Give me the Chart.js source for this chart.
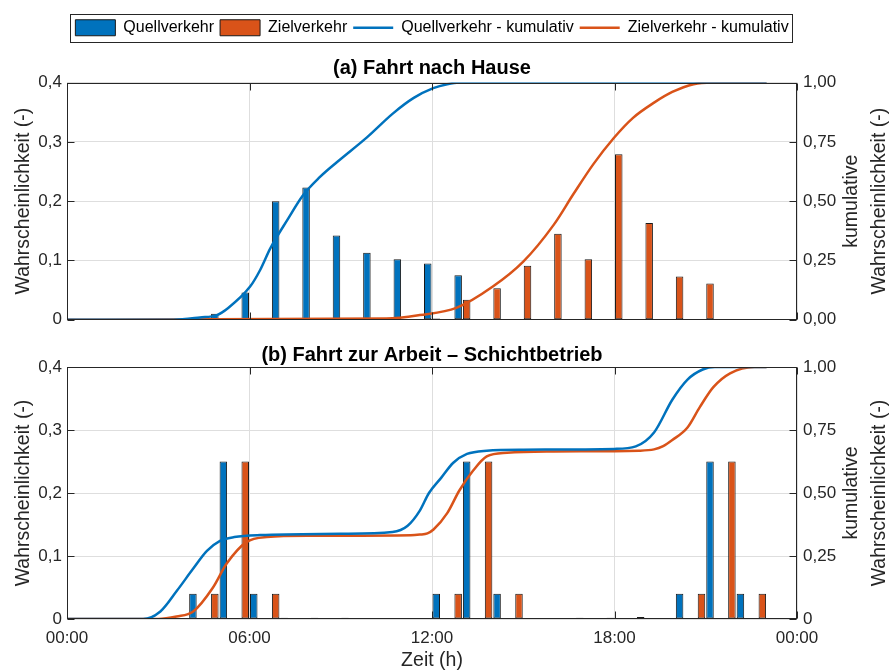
<!DOCTYPE html>
<html>
<head>
<meta charset="utf-8">
<script src="https://cdn.jsdelivr.net/npm/chart.js@4.4.1/dist/chart.umd.min.js"></script>
<style>
  html, body { margin: 0; padding: 0; background: #fff; }
  #wrap { position: relative; width: 890px; height: 672px; }
  #chartA { position: absolute; left: 0; top: 0; }
  #chartB { position: absolute; left: 0; top: 336px; }
</style>
</head>
<body>
<div id="wrap">
  <canvas id="chartA" width="890" height="336"></canvas>
  <canvas id="chartB" width="890" height="336"></canvas>
</div>
<script>
// hourly bins
const hours = [0,1,2,3,4,5,6,7,8,9,10,11,12,13,14,15,16,17,18,19,20,21,22,23];

// (a) Fahrt nach Hause
const quellA = [0,0,0,0,0.002,0.010,0.046,0.200,0.223,0.142,0.113,0.102,0.095,0.075,0,0,0,0,0,0,0,0,0,0];
const zielA  = [0,0,0,0,0,0,0,0,0,0,0,0,0.002,0.034,0.053,0.091,0.145,0.102,0.279,0.163,0.073,0.061,0,0];
const cumTimeQA = [0, 3.5, 4.37, 4.93, 5.3, 6.02, 6.35, 6.68, 7.24, 7.76, 8.3, 8.88, 9.87, 10.72, 11.4, 12.04, 12.5, 12.9, 14, 23];
const cumQA     = [0, 0,   0.01, 0.02, 0.05, 0.14, 0.21, 0.30, 0.42, 0.525, 0.60, 0.665, 0.77, 0.87, 0.935, 0.976, 0.993, 1, 1, 1];
const cumTimeZA = [0, 10.5, 11.6, 12.8, 14, 15, 16, 16.65, 17.3, 17.97, 18.6, 19.3, 19.9, 20.6, 21.2, 23];
const cumZA     = [0, 0.005, 0.02, 0.05, 0.14, 0.245, 0.40, 0.53, 0.655, 0.765, 0.85, 0.915, 0.96, 0.993, 1, 1];

// (b) Fahrt zur Arbeit - Schichtbetrieb
const quellB = [0,0,0,0,0.04,0.25,0.04,0.002,0.002,0.002,0.001,0,0.04,0.25,0.04,0,0,0,0,0,0.04,0.25,0.04,0];
const zielB  = [0,0,0,0,0,0.04,0.25,0.04,0,0,0.001,0,0,0.04,0.25,0.04,0.001,0.002,0.002,0.003,0.001,0.04,0.25,0.04];
const cumTimeQB = [0, 2.5, 3.07, 3.6, 4.15, 4.6, 5.03, 5.5, 6.35, 9, 10.7, 11.2, 11.6, 11.9, 12.3, 12.7, 13.15, 13.8, 15, 18, 18.7, 19.3, 19.9, 20.4, 20.9, 21.3, 23];
const cumQB     = [0, 0,   0.03, 0.11, 0.20, 0.27, 0.31, 0.325, 0.333, 0.338, 0.345, 0.37, 0.43, 0.50, 0.56, 0.62, 0.655, 0.668, 0.672, 0.675, 0.685, 0.74, 0.87, 0.95, 0.99, 1, 1];
const cumTimeZB = [0, 3, 3.6, 4.15, 4.8, 5.25, 5.9, 6.57, 8, 11.3, 11.6, 11.85, 12.05, 12.5, 12.9, 13.36, 13.8, 14.47, 16, 18.8, 19.3, 19.6, 19.9, 20.4, 20.8, 21.25, 21.8, 22.6, 23];
const cumZB     = [0, 0, 0.01, 0.03, 0.125, 0.22, 0.305, 0.325, 0.33, 0.332, 0.335, 0.34, 0.355, 0.42, 0.51, 0.59, 0.645, 0.66, 0.665, 0.668, 0.673, 0.686, 0.71, 0.76, 0.84, 0.92, 0.975, 1, 1];

// ticks
const xTicks = [0, 6, 12, 18, 24];
const xTickLabels = ['00:00', '06:00', '12:00', '18:00', '00:00'];
const yTicks = [0, 0.1, 0.2, 0.3, 0.4];
const yTickLabels = ['0', '0,1', '0,2', '0,3', '0,4'];
const y2Ticks = [0, 0.25, 0.5, 0.75, 1];
const y2TickLabelsA = ['0,00', '0,25', '0,50', '0,75', '1,00'];
const y2TickLabelsB = ['0', '0,25', '0,50', '0,75', '1,00'];

const FONT = "'Liberation Sans', Arial, Helvetica, sans-serif";
const BLUE = '#0072BD';
const RED = '#D95319';
const EDGE = '#1a1a1a';
const GRID = '#dedede';
const AXIS = '#262626';
const TXT = '#262626';

Chart.defaults.font.family = FONT;
Chart.defaults.color = TXT;

// box around the axes with inward ticks (MATLAB look) + right axis label
const axesBox = {
  id: 'axesBox',
  afterDraw(chart) {
    const {ctx, chartArea: a, scales} = chart;
    const L = Math.round(a.left) + 0.5, R = Math.round(a.right) - 0.5;
    const T = Math.round(a.top) + 0.5, B = Math.round(a.bottom) - 0.5;
    ctx.save();
    ctx.strokeStyle = AXIS;
    ctx.lineWidth = 1;
    ctx.strokeRect(L, T, R - L, B - T);
    ctx.beginPath();
    scales.y.ticks.forEach(t => {
      const y = Math.round(scales.y.getPixelForValue(t.value)) + 0.5;
      ctx.moveTo(L, y); ctx.lineTo(L + 7, y);
    });
    scales.y2.ticks.forEach(t => {
      const y = Math.round(scales.y2.getPixelForValue(t.value)) + 0.5;
      ctx.moveTo(R, y); ctx.lineTo(R - 7, y);
    });
    scales.x.ticks.forEach(t => {
      const x = Math.round(scales.x.getPixelForValue(t.value)) + 0.5;
      ctx.moveTo(x, T); ctx.lineTo(x, T + 7);
      ctx.moveTo(x, B); ctx.lineTo(x, B - 7);
    });
    ctx.stroke();

    ctx.fillStyle = TXT;
    ctx.font = '19.5px ' + FONT;
    ctx.textAlign = 'center';
    ctx.textBaseline = 'middle';
    ctx.translate(866, (a.top + a.bottom) / 2);
    ctx.rotate(-Math.PI / 2);
    ctx.fillText('kumulative', 0, -14);
    ctx.fillText('Wahrscheinlichkeit (-)', 0, 14);
    ctx.restore();
  }
};

// frame around the legend
const legendFrame = {
  id: 'legendFrame',
  afterDraw(chart) {
    const lg = chart.legend;
    if (!lg || !lg.options.display || !lg.legendHitBoxes.length) return;
    const hb = lg.legendHitBoxes;
    const x0 = Math.min(...hb.map(b => b.left)) - 5;
    const x1 = Math.max(...hb.map(b => b.left + b.width)) + 4;
    const y0 = hb[0].top - 6;
    const y1 = hb[0].top + 16 + 6;
    const ctx = chart.ctx;
    ctx.save();
    ctx.strokeStyle = AXIS;
    ctx.lineWidth = 1;
    ctx.strokeRect(Math.round(x0) + 0.5, Math.round(y0) + 0.5, Math.round(x1 - x0), Math.round(y1 - y0));
    ctx.restore();
  }
};

function makeChart(id, o) {
  const barOpts = {
    type: 'bar', yAxisID: 'y', borderColor: EDGE, borderWidth: 1,
    borderSkipped: false, categoryPercentage: 0.56, barPercentage: 0.95, maxBarThickness: 7.5
  };
  const lineOpts = {
    type: 'line', yAxisID: 'y2', borderWidth: 2.5, pointRadius: 0,
    cubicInterpolationMode: 'monotone', fill: false, order: 0
  };
  return new Chart(document.getElementById(id), {
    type: 'bar',
    data: {
      datasets: [
        Object.assign({}, barOpts, {
          label: 'Quellverkehr', backgroundColor: BLUE, order: o.quellOrder,
          data: hours.map((h, i) => ({x: h, y: o.quell[i]}))
        }),
        Object.assign({}, barOpts, {
          label: 'Zielverkehr', backgroundColor: RED, order: o.zielOrder,
          data: hours.map((h, i) => ({x: h, y: o.ziel[i]}))
        }),
        Object.assign({}, lineOpts, {
          label: 'Quellverkehr - kumulativ', borderColor: BLUE, backgroundColor: BLUE,
          data: o.cumQT.map((t, i) => ({x: t, y: o.cumQ[i]}))
        }),
        Object.assign({}, lineOpts, {
          label: 'Zielverkehr - kumulativ', borderColor: RED, backgroundColor: RED,
          data: o.cumZT.map((t, i) => ({x: t, y: o.cumZ[i]}))
        })
      ]
    },
    options: {
      responsive: false,
      animation: false,
      events: [],
      layout: { padding: { top: o.padTop, left: 0, right: 0, bottom: 0 } },
      plugins: {
        tooltip: { enabled: false },
        title: {
          display: true, text: o.title, fullSize: false, color: '#000',
          font: { size: 20, weight: 'bold' }, padding: o.titlePad
        },
        legend: {
          display: o.legend, position: 'top', fullSize: false, weight: 3000,
          labels: {
            usePointStyle: true, pointStyleWidth: 40, boxHeight: 16, padding: 6,
            color: '#000', font: { size: 16 },
            generateLabels: chart => chart.data.datasets.map((ds, i) => ({
              text: ds.label, datasetIndex: i, fontColor: '#000',
              fillStyle: ds.backgroundColor,
              strokeStyle: ds.type === 'line' ? ds.borderColor : EDGE,
              lineWidth: ds.type === 'line' ? 2.5 : 1,
              pointStyle: ds.type === 'line' ? 'line' : 'rect'
            }))
          }
        }
      },
      scales: {
        x: {
          type: 'linear', min: 0, max: 24, offset: false,
          afterBuildTicks: s => { s.ticks = xTicks.map(v => ({value: v})); },
          grid: { color: GRID, drawTicks: false, offset: false },
          border: { display: false },
          ticks: {
            display: o.showX, padding: 9, color: TXT, font: { size: 17 },
            maxRotation: 0, autoSkip: false, callback: (v, i) => xTickLabels[i]
          },
          title: { display: o.showX, text: 'Zeit (h)', color: TXT, font: { size: 19.5 }, padding: { top: 0, bottom: 0 } },
          afterFit: s => { s.height = o.xHeight; }
        },
        y: {
          position: 'left', min: 0, max: 0.4,
          afterBuildTicks: s => { s.ticks = yTicks.map(v => ({value: v})); },
          grid: { color: GRID, drawTicks: false },
          border: { display: false },
          ticks: { padding: 5, color: TXT, font: { size: 17 }, callback: (v, i) => yTickLabels[i] },
          title: { display: true, text: 'Wahrscheinlichkeit (-)', color: TXT, font: { size: 19.5 }, padding: { top: 12, bottom: 0 } },
          afterFit: s => { s.width = 67; }
        },
        y2: {
          position: 'right', min: 0, max: 1,
          afterBuildTicks: s => { s.ticks = y2Ticks.map(v => ({value: v})); },
          grid: { display: false, drawTicks: false },
          border: { display: false },
          ticks: { padding: 6, color: TXT, font: { size: 17 }, callback: (v, i) => o.y2Labels[i] },
          afterFit: s => { s.width = 93; }
        }
      }
    },
    plugins: [axesBox, legendFrame]
  });
}

makeChart('chartA', {
  title: '(a) Fahrt nach Hause', legend: true, showX: false,
  padTop: 13.75, titlePad: { top: 11, bottom: 1.75 }, xHeight: 3,
  quell: quellA, ziel: zielA, quellOrder: 1, zielOrder: 2,
  cumQT: cumTimeQA, cumQ: cumQA, cumZT: cumTimeZA, cumZ: cumZA,
  y2Labels: y2TickLabelsA
});

makeChart('chartB', {
  title: '(b) Fahrt zur Arbeit \u2013 Schichtbetrieb', legend: false, showX: true,
  padTop: 0, titlePad: { top: 7, bottom: 0 }, xHeight: 53,
  quell: quellB, ziel: zielB, quellOrder: 2, zielOrder: 1,
  cumQT: cumTimeQB, cumQ: cumQB, cumZT: cumTimeZB, cumZ: cumZB,
  y2Labels: y2TickLabelsB
});
</script>
</body>
</html>
